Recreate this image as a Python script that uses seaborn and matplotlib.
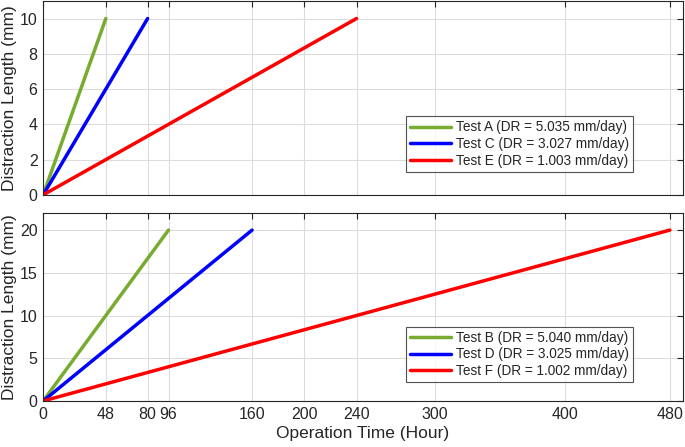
import matplotlib
matplotlib.use("Agg")
import matplotlib.pyplot as plt
import seaborn as sns
import pandas as pd

sns.set_theme(style="white")
plt.rcParams['font.family'] = ['Liberation Sans', 'DejaVu Sans']

# Data: operation time (hour) vs distraction length (mm)
top_labels = ['Test A (DR = 5.035 mm/day)', 'Test C (DR = 3.027 mm/day)', 'Test E (DR = 1.003 mm/day)']
top_time = [[0, 48], [0, 80], [0, 240]]
top_length = [[0, 10], [0, 10], [0, 10]]

bot_labels = ['Test B (DR = 5.040 mm/day)', 'Test D (DR = 3.025 mm/day)', 'Test F (DR = 1.002 mm/day)']
bot_time = [[0, 96], [0, 160], [0, 480]]
bot_length = [[0, 20], [0, 20], [0, 20]]

x_ticks = [0, 48, 80, 96, 160, 200, 240, 300, 400, 480]
colors = ['#77AC30', '#0000FF', '#FF0000']


def to_frame(labels, times, lengths):
    rows = []
    for lab, t, l in zip(labels, times, lengths):
        for ti, li in zip(t, l):
            rows.append({'Test': lab, 'Time': ti, 'Length': li})
    return pd.DataFrame(rows)


def style_axes(ax, ylim, yticks, show_xlabels):
    ax.set_xlim(0, 490)
    ax.set_ylim(*ylim)
    ax.set_xticks(x_ticks)
    ax.set_yticks(yticks)
    ax.grid(True, color='#dcdcdc', linewidth=0.8)
    ax.tick_params(direction='in', top=True, right=True, length=4, width=0.8,
                   colors='#262626', labelsize=11.5, pad=4)
    if not show_xlabels:
        ax.set_xticklabels([])
    for s in ax.spines.values():
        s.set_color('#262626')
        s.set_linewidth(0.8)
    ax.set_ylabel('Distraction Length (mm)', fontsize=12.5, color='#262626', labelpad=2)


fig = plt.figure(figsize=(6.85, 4.47), dpi=100)
ax1 = fig.add_axes([0.063, 0.564, 0.934, 0.434])
ax2 = fig.add_axes([0.063, 0.103, 0.934, 0.4205])

df_top = to_frame(top_labels, top_time, top_length)
df_bot = to_frame(bot_labels, bot_time, bot_length)

sns.lineplot(data=df_top, x='Time', y='Length', hue='Test', palette=colors,
             linewidth=2.5, ax=ax1, estimator=None, sort=False)
sns.lineplot(data=df_bot, x='Time', y='Length', hue='Test', palette=colors,
             linewidth=2.5, ax=ax2, estimator=None, sort=False)

style_axes(ax1, (0, 11), [0, 2, 4, 6, 8, 10], False)
style_axes(ax2, (0, 22), [0, 5, 10, 15, 20], True)
ax1.set_xlabel('')
ax2.set_xlabel('Operation Time (Hour)', fontsize=12.5, color='#262626', labelpad=3)

for ax, anchor in [(ax1, (0.567, 0.118)), (ax2, (0.567, 0.10))]:
    leg = ax.legend(loc='lower left', bbox_to_anchor=anchor, fontsize=9.8,
                    frameon=True, fancybox=False, borderpad=0.3,
                    labelspacing=0.2, handlelength=3.0, handletextpad=0.35,
                    borderaxespad=0)
    leg.get_frame().set_edgecolor('#262626')
    leg.get_frame().set_linewidth(0.8)

fig.savefig('out.png', dpi=100)
